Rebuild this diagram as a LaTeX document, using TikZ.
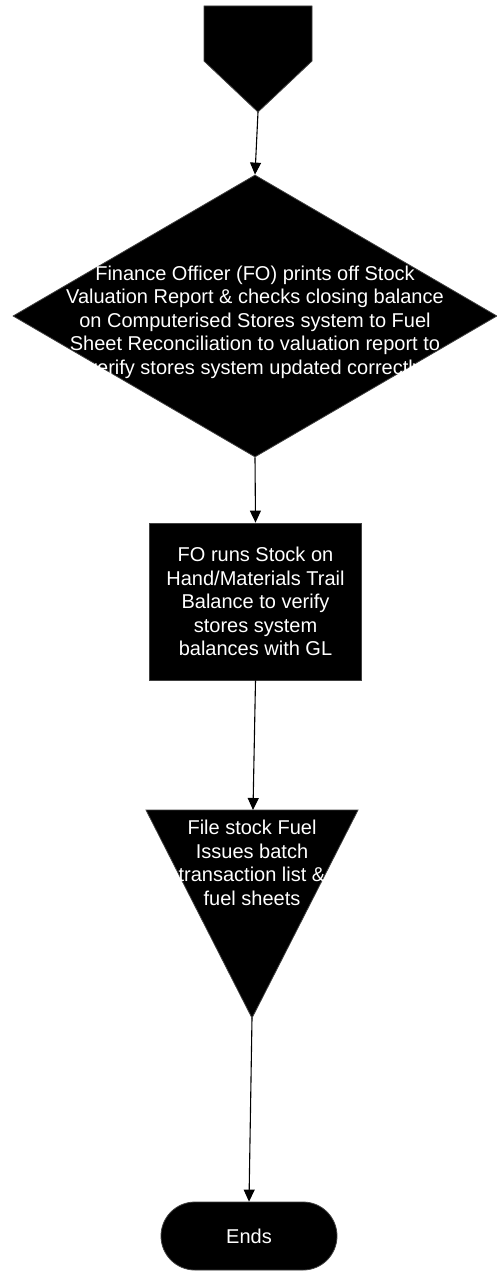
\documentclass[tikz,border=0pt]{standalone}
\usepackage{fontspec}
\setmainfont{Liberation Sans}
\usetikzlibrary{shapes.geometric,arrows.meta}
\begin{document}
\begin{tikzpicture}[x=1pt,y=-1pt,
  shapefill/.style={fill=black, draw=black!75, line width=0.8pt},
  lbl/.style={text=white, font=\fontsize{20pt}{23.5pt}\selectfont, align=center, inner sep=0pt},
  conn/.style={draw=black, line width=1.1pt, -{Triangle[length=12pt,width=11pt]}}]
\useasboundingbox (0,0) rectangle (497,1273);
% off-page connector
\path[shapefill] (204,6) -- (312,6) -- (312,61) -- (258,112) -- (204,61) -- cycle;
\coordinate (start) at (258,112);
% decision diamond
\node[shapefill, diamond, minimum width=484pt, minimum height=282pt, inner sep=0pt] (dec) at (255,316) {};
\node[lbl] (dectext) at (255,322) {Finance Officer (FO) prints off Stock\\Valuation Report \& checks closing balance\\on Computerised Stores system to Fuel\\Sheet Reconciliation to valuation report to\\verify stores system updated correctly};
% process box
\node[shapefill, lbl, rectangle, minimum width=212pt, minimum height=157pt] (fo) at (255.5,601.5) {FO runs Stock on\\Hand/Materials Trail\\Balance to verify\\stores system\\balances with GL};
% merge / file triangle
\path[shapefill] (146,810) -- (358,810) -- (252,1018) -- cycle;
\coordinate (tritop) at (253,810);
\coordinate (tribot) at (252,1018);
\node[lbl] (tritext) at (252,863) {File stock Fuel\\Issues batch\\transaction list \&\\fuel sheets};
% terminator
\node[shapefill, lbl, rectangle, rounded corners=34pt, minimum width=176pt, minimum height=68pt] (ends) at (249,1236) {Ends};
% connectors
\draw[conn] (start) -- (dec.north);
\draw[conn] (dec.south) -- (fo.north);
\draw[conn] (fo.south) -- (tritop);
\draw[conn] (tribot) -- (ends.north);
\end{tikzpicture}
\end{document}
